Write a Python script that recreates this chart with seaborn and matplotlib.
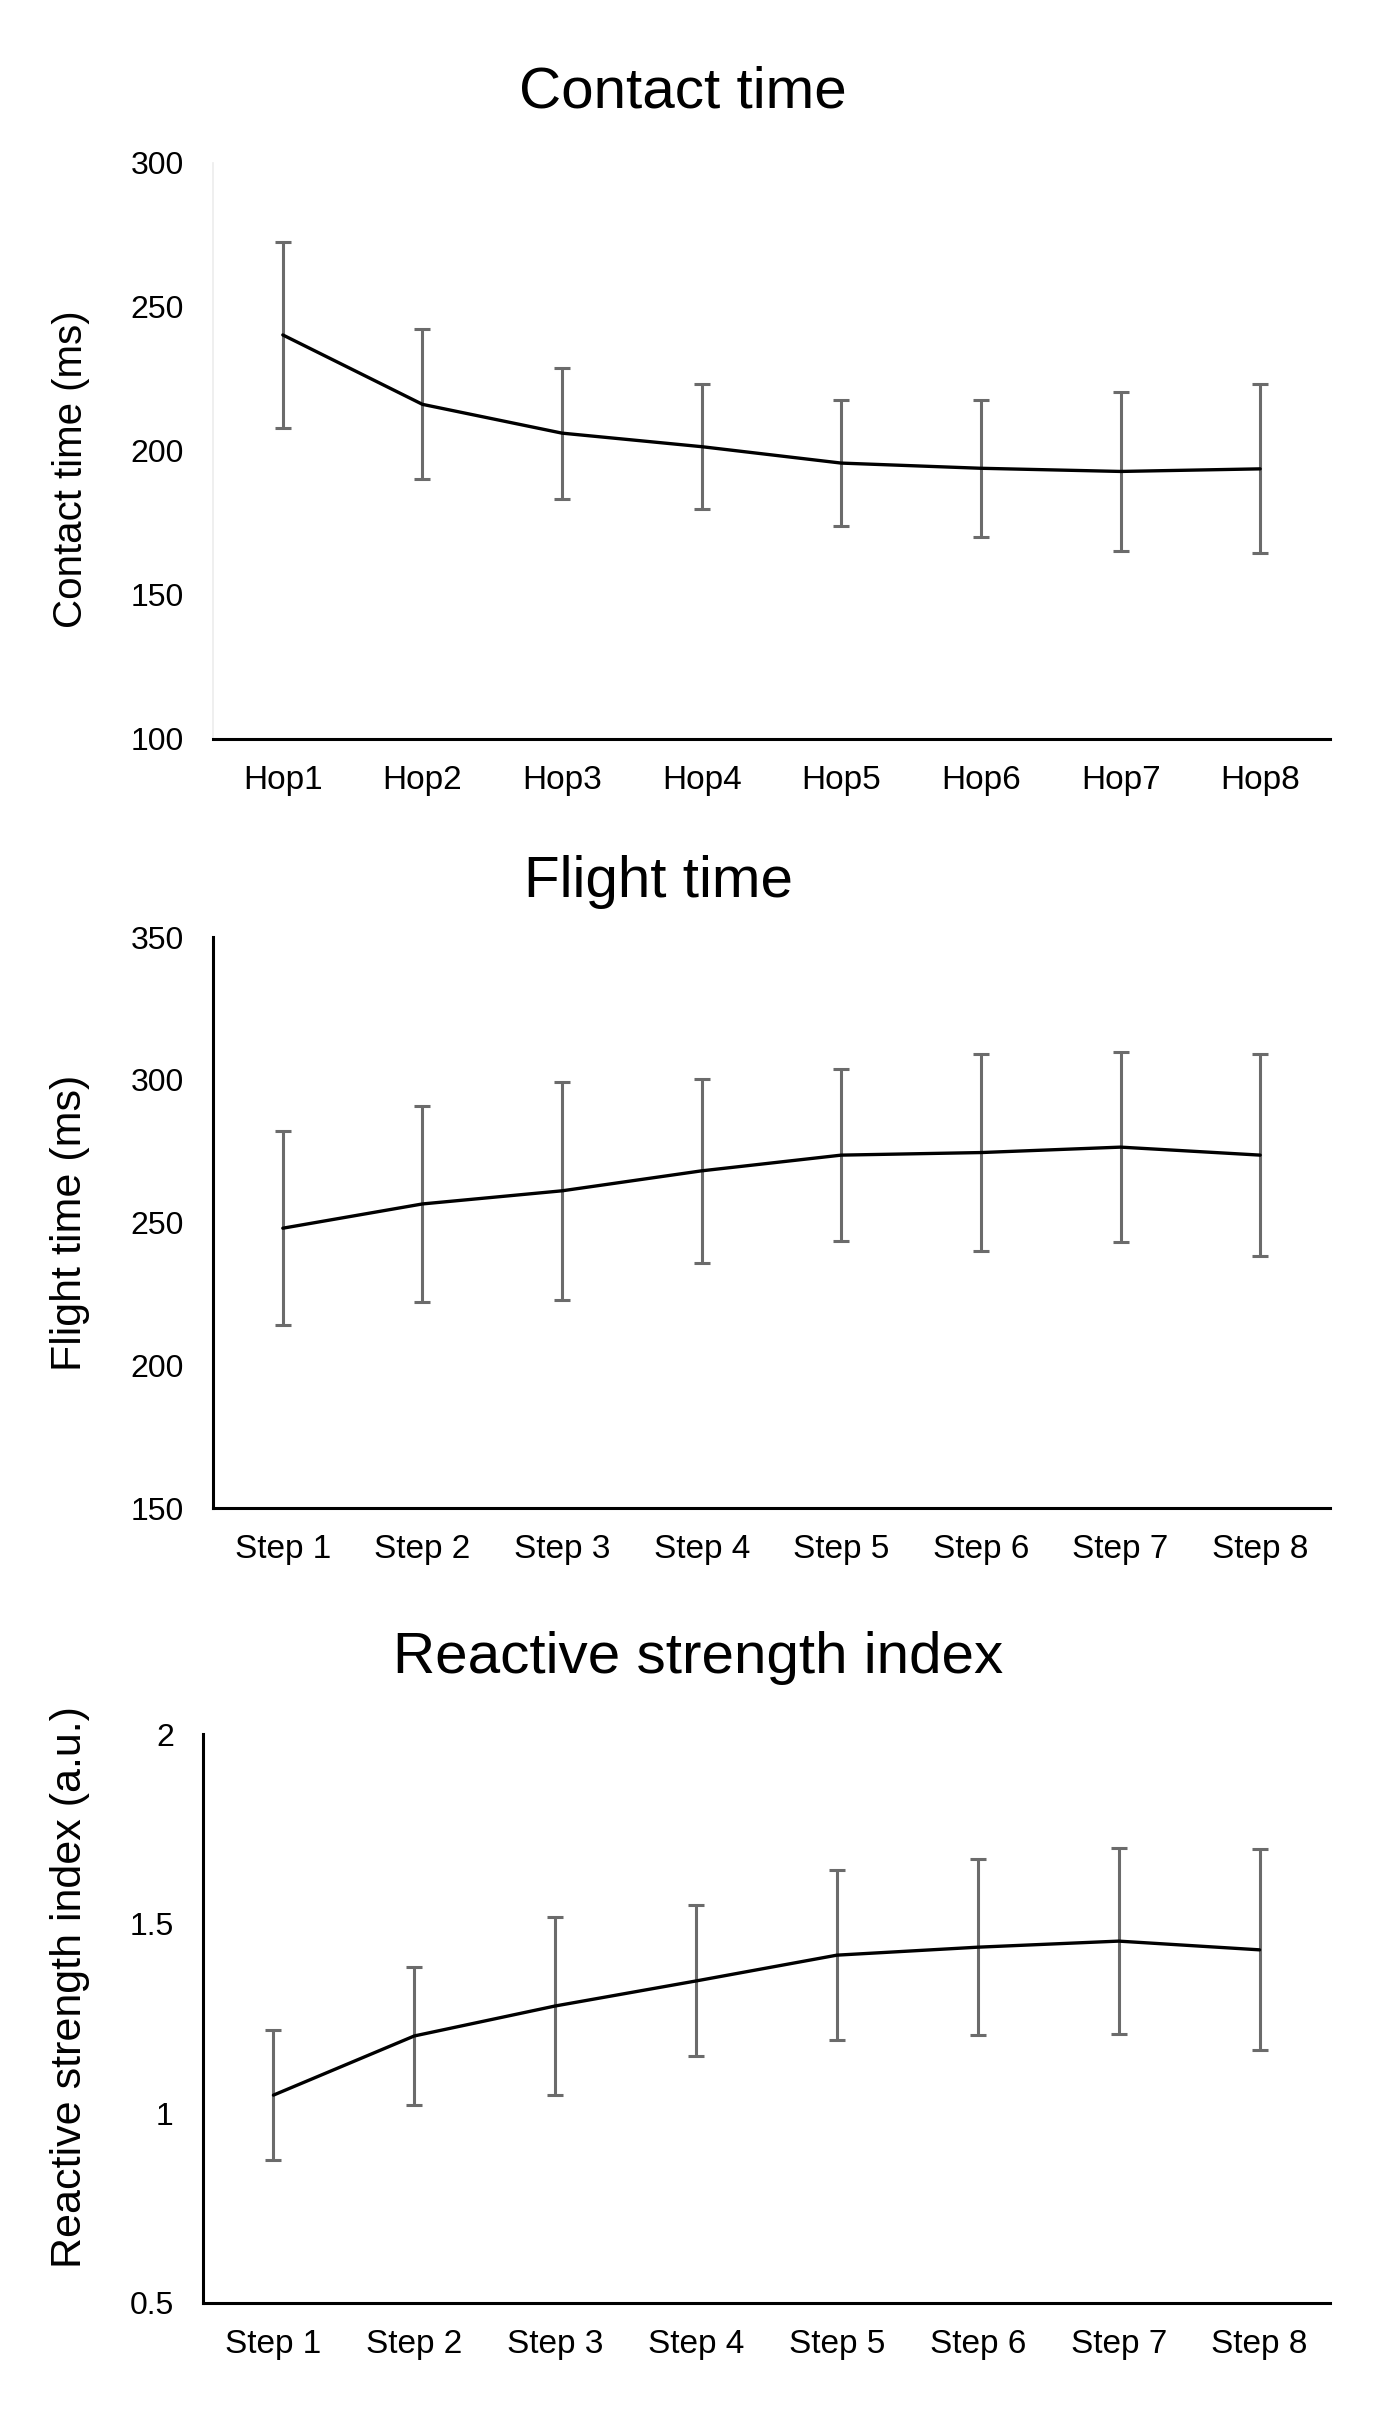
import matplotlib
matplotlib.use("Agg")
import matplotlib.pyplot as plt
import seaborn as sns
import pandas as pd
import numpy as np

# ---------------- data ----------------
hop_labels = ["Hop1", "Hop2", "Hop3", "Hop4", "Hop5", "Hop6", "Hop7", "Hop8"]
step_labels = ["Step 1", "Step 2", "Step 3", "Step 4", "Step 5", "Step 6", "Step 7", "Step 8"]

contact_mean = [240.3, 216.2, 206.2, 201.5, 195.8, 194.0, 192.9, 193.8]
contact_sd = [32.2, 26.0, 22.7, 21.8, 21.9, 23.8, 27.6, 29.3]

flight_mean = [248.0, 256.5, 261.1, 268.1, 273.6, 274.5, 276.4, 273.6]
flight_sd = [33.9, 34.3, 38.2, 32.3, 30.0, 34.5, 33.2, 35.5]

rsi_mean = [1.048, 1.204, 1.283, 1.349, 1.417, 1.438, 1.454, 1.431]
rsi_sd = [0.171, 0.182, 0.234, 0.199, 0.224, 0.232, 0.246, 0.265]

titles = ["Contact time", "Flight time", "Reactive strength index"]
ylabels = ["Contact time (ms)", "Flight time (ms)", "Reactive strength index (a.u.)"]
yticks = [[100, 150, 200, 250, 300], [150, 200, 250, 300, 350], [0.5, 1, 1.5, 2]]
yticklabels = [["100", "150", "200", "250", "300"],
               ["150", "200", "250", "300", "350"],
               ["0.5", "1", "1.5", "2"]]

# ---------------- style ----------------
sns.set_theme(style="white")
plt.rcParams['font.family'] = ['Liberation Sans', 'DejaVu Sans']

W, H = 1397, 2433
fig = plt.figure(figsize=(W / 100, H / 100), dpi=100)

# axes rectangles in pixels: left, right, top, bottom
rects = [(213, 1330, 163, 739), (213, 1330, 937, 1508), (203, 1330, 1734, 2303)]
title_pos = [(683, 93), (658, 882), (698, 1658)]
ylabel_y = [0.469, 0.5, 0.555]
ylabel_size = [29, 31, 31]

panels = [
    (hop_labels, contact_mean, contact_sd),
    (step_labels, flight_mean, flight_sd),
    (step_labels, rsi_mean, rsi_sd),
]

for i, (cats, means, sds) in enumerate(panels):
    l, r, t, b = rects[i]
    ax = fig.add_axes([l / W, 1 - b / H, (r - l) / W, (b - t) / H])
    df = pd.DataFrame({"cat": cats, "mean": means, "sd": sds})
    df["cat"] = pd.Categorical(df["cat"], categories=cats, ordered=True)
    xs = np.arange(len(cats))
    ax.errorbar(xs, df["mean"], yerr=df["sd"], fmt="none", ecolor="#6b6b6b",
                elinewidth=2.2, capsize=6, capthick=2.2, zorder=2)
    sns.lineplot(data=df, x="cat", y="mean", ax=ax, color="black",
                 linewidth=2.4, sort=False, zorder=3)
    ax.set_xlim(-0.5, len(cats) - 0.5)
    ax.set_ylim(yticks[i][0], yticks[i][-1])
    ax.set_yticks(yticks[i])
    ax.set_yticklabels(yticklabels[i])
    ax.set_xticks(xs)
    ax.set_xticklabels(cats)
    ax.set_xlabel("")
    ax.set_ylabel(ylabels[i], fontsize=ylabel_size[i], color="black")
    ax.yaxis.set_label_coords(-(l - 90) / (r - l), ylabel_y[i])
    ax.tick_params(axis="y", length=0, pad=21, labelsize=23, labelcolor="black")
    ax.tick_params(axis="x", length=0, pad=19, labelsize=24, labelcolor="black")
    for s in ["top", "right"]:
        ax.spines[s].set_visible(False)
    ax.spines["bottom"].set_color("black")
    ax.spines["bottom"].set_linewidth(2.2)
    if i == 0:
        ax.spines["left"].set_color("#ececec")
        ax.spines["left"].set_linewidth(1.2)
    else:
        ax.spines["left"].set_color("black")
        ax.spines["left"].set_linewidth(2.2)
    ax.grid(False)
    tx, ty = title_pos[i]
    fig.text(tx / W, 1 - ty / H, titles[i], ha="center", va="center",
             fontsize=42, color="black")

fig.savefig("out.png", dpi=100, facecolor="white")
